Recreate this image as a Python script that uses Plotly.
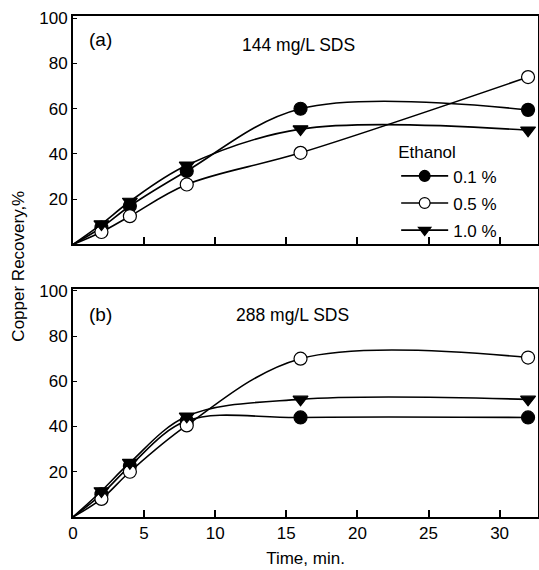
import plotly.graph_objects as go
from plotly.subplots import make_subplots

time = [0, 2, 4, 8, 16, 32]
series_names = ["0.1 %", "0.5 %", "1.0 %"]

# Panel (a): 144 mg/L SDS
a_01 = [0, 7.5, 17, 32.5, 60, 59.5]
a_05 = [0, 5.5, 12.5, 26.5, 40.5, 74]
a_10 = [0, 9, 19, 35, 51, 50.5]

# Panel (b): 288 mg/L SDS
b_01 = [0, 10, 22.5, 42.5, 44, 44]
b_05 = [0, 8, 20, 40.5, 70, 70.5]
b_10 = [0, 11.5, 24, 44.5, 52, 52]

x_ticks = [0, 5, 10, 15, 20, 25, 30]
y_ticks = [20, 40, 60, 80, 100]

styles = [
    dict(symbol="circle", color="#000000"),
    dict(symbol="circle", color="#ffffff"),
    dict(symbol="triangle-down", color="#000000"),
]

FONT = "Liberation Sans, Arial, sans-serif"

fig = make_subplots(rows=2, cols=1, vertical_spacing=0.088)

sizes = [0] + [13] * (len(time) - 1)
for row, data in [(1, [a_01, a_05, a_10]), (2, [b_01, b_05, b_10])]:
    for i, (name, vals, st) in enumerate(zip(series_names, data, styles)):
        fig.add_trace(
            go.Scatter(
                x=time, y=vals, name=name, mode="lines+markers",
                legendgroup=f"g{i}",
                line=dict(color="#000000", width=1.6, shape="spline", smoothing=1.0),
                marker=dict(symbol=st["symbol"], color=st["color"], size=sizes,
                            opacity=1, line=dict(color="#000000", width=1.2)),
                opacity=1,
                cliponaxis=False,
                hoverinfo="skip",
                showlegend=(row == 1),
            ),
            row=row, col=1,
        )

axis_common = dict(showline=True, linecolor="black", linewidth=2, mirror=True,
                   showgrid=False, zeroline=False, automargin=False,
                   tickfont=dict(family=FONT, size=17, color="black"))
for row in (1, 2):
    fig.update_xaxes(range=[0, 32.7], tickvals=x_ticks, ticks="inside", ticklen=7,
                     tickcolor="black", tickwidth=1.5,
                     showticklabels=(row == 2), row=row, col=1, **axis_common)
    fig.update_yaxes(range=[0, 101], tickvals=y_ticks, ticks="inside", ticklen=4,
                     tickcolor="black", tickwidth=1, row=row, col=1,
                     **axis_common)

fig.update_xaxes(title=dict(text="Time, min.", font=dict(family=FONT, size=17, color="black"),
                            standoff=10), row=2, col=1)

fig.add_annotation(text="(a)", x=0.03, y=0.895, xref="x domain", yref="y domain",
                   showarrow=False, xanchor="left", yanchor="middle",
                   font=dict(family=FONT, size=19, color="black"), row=1, col=1)
fig.add_annotation(text="144 mg/L SDS", x=0.486, y=0.873, xref="x domain", yref="y domain",
                   showarrow=False, xanchor="center", yanchor="middle",
                   font=dict(family=FONT, size=17.5, color="black"), row=1, col=1)
fig.add_annotation(text="(b)", x=0.03, y=0.886, xref="x2 domain", yref="y2 domain",
                   showarrow=False, xanchor="left", yanchor="middle",
                   font=dict(family=FONT, size=19, color="black"))
fig.add_annotation(text="288 mg/L SDS", x=0.471, y=0.886, xref="x2 domain", yref="y2 domain",
                   showarrow=False, xanchor="center", yanchor="middle",
                   font=dict(family=FONT, size=17.5, color="black"))

fig.add_annotation(text="Copper Recovery,%", x=-0.118, y=0.5, xref="paper", yref="paper",
                   textangle=-90, showarrow=False, xanchor="center", yanchor="middle",
                   font=dict(family=FONT, size=17, color="black"))

fig.update_layout(
    width=539, height=570,
    margin=dict(l=73, r=1, t=16, b=53),
    paper_bgcolor="white", plot_bgcolor="white",
    font=dict(family=FONT, size=17, color="black"),
    legend=dict(x=0.695, y=0.760, xanchor="left", yanchor="top",
                title=dict(text="Ethanol", font=dict(family=FONT, size=17)),
                font=dict(family=FONT, size=17), bgcolor="rgba(0,0,0,0)",
                itemwidth=47, tracegroupgap=2),
    showlegend=True,
    hovermode=False,
)

fig.write_html("out.html", config={"displayModeBar": False},
               post_script="document.body.style.margin='0px';document.body.style.overflow='hidden';")
